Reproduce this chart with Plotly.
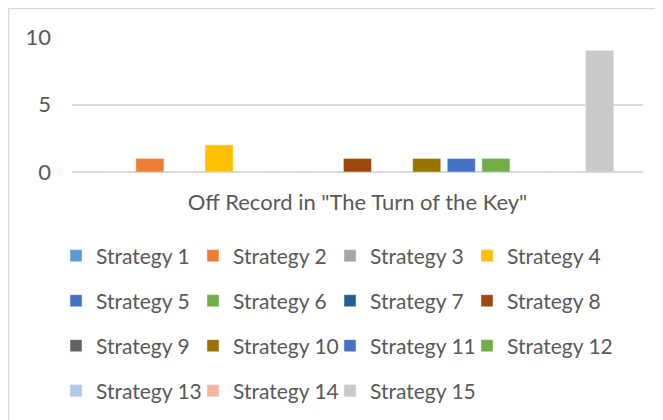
import plotly.graph_objects as go

category = ['Off Record in "The Turn of the Key"']
strategies = ["Strategy %d" % i for i in range(1, 16)]
values = [0, 1, 0, 2, 0, 0, 0, 1, 0, 1, 1, 1, 0, 0, 9]
colors = ["#5B9BD5", "#ED7D31", "#A5A5A5", "#FFC000", "#4472C4", "#70AD47",
          "#255E91", "#9E480E", "#636363", "#997300", "#4472C4", "#70AD47",
          "#AFC7E8", "#F5B7A2", "#C9C9C9"]

txt = "#595959"
fnt = "Lato"

# the page puts the figure 8px in from the window corner
off = 8
L, T = 72 - off, 37 - off          # plot area corner in figure px
pw, ph = 571, 135


def px_x(x):
    return (x - off - L) / pw


def px_y(y):
    return (T + ph - (y - off)) / ph


# legend grid: 4 per row, one small legend per entry so the grid lines up
col_x = [56, 193, 330, 467]
row_y = [256, 301, 346, 391]

fig = go.Figure()
leg = {}
for i, (name, v, c) in enumerate(zip(strategies, values, colors)):
    key = "legend" if i == 0 else "legend%d" % (i + 1)
    fig.add_trace(go.Bar(name=name, x=category, y=[v], marker_color=c,
                         legend=key))
    leg[key] = dict(orientation="h", x=px_x(col_x[i % 4]), xanchor="left",
                    y=px_y(row_y[i // 4]), yanchor="middle",
                    font=dict(family=fnt, size=21, color=txt),
                    bgcolor="rgba(0,0,0,0)")

fig.update_layout(
    width=663, height=420,
    margin=dict(l=L, r=663 - L - pw, t=T, b=420 - T - ph, autoexpand=False),
    paper_bgcolor="white", plot_bgcolor="white",
    barmode="group", bargap=0.091, bargroupgap=0.19,
    font=dict(family=fnt, size=22, color=txt),
    showlegend=True,
    **leg,
)
fig.update_xaxes(showgrid=False, showline=False, zeroline=False,
                 ticks="", ticklabelstandoff=15,
                 tickfont=dict(family=fnt, size=22, color=txt))
fig.update_yaxes(range=[0, 10], dtick=5, showgrid=True, gridcolor="#D9D9D9",
                 gridwidth=2, zeroline=True, zerolinecolor="#D9D9D9",
                 zerolinewidth=2, showline=False, ticks="",
                 ticklabelstandoff=20,
                 tickfont=dict(family=fnt, size=22, color=txt))

# chart area border (cropped on the right and bottom)
fig.add_shape(type="rect", xref="paper", yref="paper",
              x0=px_x(8.5), x1=px_x(700),
              y0=px_y(460), y1=px_y(8.5),
              line=dict(color="#D9D9D9", width=1.5), layer="below")

fig.write_html("out.html")
